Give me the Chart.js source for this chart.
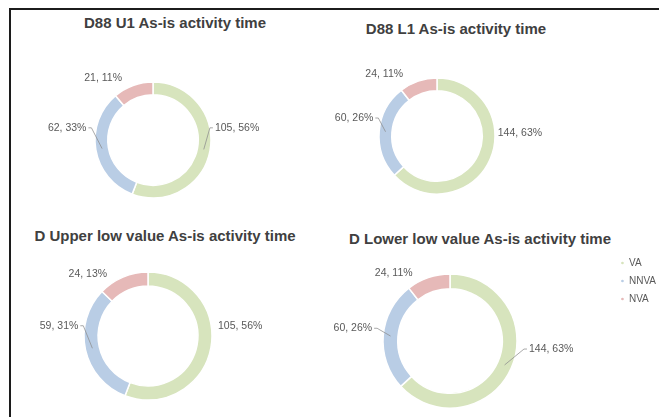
<!DOCTYPE html>
<html>
<head>
    <title>As-is activity time</title>
    <script src="https://cdn.jsdelivr.net/npm/chart.js"></script>
    <style>
        html, body {
            margin: 0;
            padding: 0;
            background: #fff;
            overflow: hidden;
        }
        #page {
            position: relative;
            width: 659px;
            height: 417px;
            overflow: hidden;
        }
        .frame {
            position: absolute;
            left: 9px;
            top: 8px;
            right: -10px;
            bottom: -10px;
            border-left: 2px solid #1c1c1c;
            border-top: 2px solid #1c1c1c;
        }
        .title {
            position: absolute;
            width: 400px;
            text-align: center;
            font-family: 'Liberation Sans', Arial, sans-serif;
            font-weight: bold;
            font-size: 15px;
            line-height: 18px;
            color: #404040;
            white-space: nowrap;
        }
        canvas {
            position: absolute;
        }
    </style>
</head>
<body>
<div id="page">
    <div class="frame"></div>
</div>

<script>
    // categories shared by all four charts
    const categories = ['VA', 'NNVA', 'NVA'];

    const chartTitles = [
        'D88 U1 As-is activity time',
        'D88 L1 As-is activity time',
        'D Upper low value As-is activity time',
        'D Lower low value As-is activity time'
    ];

    // minutes per category (VA, NNVA, NVA)
    const u1Values = [105, 62, 21];
    const l1Values = [144, 60, 24];
    const upperLowValues = [105, 59, 24];
    const lowerLowValues = [144, 60, 24];

    const seriesValues = [u1Values, l1Values, upperLowValues, lowerLowValues];

    const colors = ['#d7e4bd', '#b9cde5', '#e6b9b8'];

    // where each chart sits on the page (canvas box, ring centre, ring radius, title centre)
    const layouts = [
        { box: [12, 40, 318, 170], center: [153, 140], radius: 58, title: [175, 23],
          labelPos: [[1.45, -0.21], [-1.48, -0.21], [-0.86, -1.07]], leader: [true, true, false] },
        { box: [330, 40, 329, 170], center: [437, 136], radius: 58, title: [456, 29],
          labelPos: [[1.43, -0.05], [-1.43, -0.31], [-0.91, -1.07]], leader: [false, true, false] },
        { box: [12, 250, 318, 167], center: [148, 336], radius: 64, title: [165, 236],
          labelPos: [[1.44, -0.16], [-1.39, -0.16], [-0.94, -0.97]], leader: [false, true, false] },
        { box: [260, 250, 406, 182], center: [450, 341], radius: 67, title: [480, 239],
          labelPos: [[1.51, 0.12], [-1.45, -0.19], [-0.84, -1.01]], leader: [true, true, false],
          legend: true }
    ];

    // draws "value, pct%" next to each slice, with a thin leader line where Excel had one
    const sliceLabels = {
        id: 'sliceLabels',
        afterDatasetsDraw(chart, args, opts) {
            const ctx = chart.ctx;
            const meta = chart.getDatasetMeta(0);
            const data = chart.data.datasets[0].data;
            const total = data.reduce((a, b) => a + b, 0);
            ctx.save();
            ctx.font = '10.5px "Liberation Sans", Arial, sans-serif';
            ctx.fillStyle = '#595959';
            ctx.textBaseline = 'middle';
            ctx.textAlign = 'center';
            meta.data.forEach((arc, i) => {
                const p = arc.getProps(['x', 'y', 'startAngle', 'endAngle', 'innerRadius', 'outerRadius'], true);
                const text = data[i] + ', ' + Math.round(data[i] / total * 100) + '%';
                const lx = p.x + opts.labelPos[i][0] * p.outerRadius;
                const ly = p.y + opts.labelPos[i][1] * p.outerRadius;
                ctx.fillText(text, lx, ly);

                if (opts.leader[i]) {
                    const mid = (p.startAngle + p.endAngle) / 2;
                    const rm = (p.innerRadius + p.outerRadius) / 2;
                    const w = ctx.measureText(text).width;
                    const ex = lx > p.x ? lx - w / 2 - 2 : lx + w / 2 + 2;
                    const tx = p.x + Math.cos(mid) * rm;
                    const ty = p.y + Math.sin(mid) * rm;
                    ctx.strokeStyle = '#8c8c8c';
                    ctx.lineWidth = 0.75;
                    ctx.beginPath();
                    ctx.moveTo(ex, ly);
                    ctx.lineTo(ex + (lx > p.x ? -3 : 3), ly);
                    ctx.lineTo(tx, ty);
                    ctx.stroke();
                }
            });
            ctx.restore();
        }
    };

    const page = document.getElementById('page');

    layouts.forEach((lay, idx) => {
        const title = document.createElement('div');
        title.className = 'title';
        title.textContent = chartTitles[idx];
        title.style.left = (lay.title[0] - 200) + 'px';
        title.style.top = (lay.title[1] - 9) + 'px';
        page.appendChild(title);

        const canvas = document.createElement('canvas');
        canvas.width = lay.box[2];
        canvas.height = lay.box[3];
        canvas.style.left = lay.box[0] + 'px';
        canvas.style.top = lay.box[1] + 'px';
        page.appendChild(canvas);

        const chart = new Chart(canvas.getContext('2d'), {
            type: 'doughnut',
            data: {
                labels: categories,
                datasets: [{
                    data: seriesValues[idx],
                    backgroundColor: colors,
                    borderColor: '#ffffff',
                    borderWidth: 1.5
                }]
            },
            options: {
                responsive: false,
                animation: false,
                radius: lay.radius,
                cutout: '78%',
                layout: { padding: 0 },
                plugins: {
                    tooltip: { enabled: false },
                    legend: {
                        display: !!lay.legend,
                        position: 'right',
                        align: 'start',
                        labels: {
                            usePointStyle: true,
                            pointStyle: 'circle',
                            boxWidth: 3,
                            boxHeight: 3,
                            padding: 8,
                            color: '#595959',
                            font: { family: '"Liberation Sans", Arial, sans-serif', size: 10 }
                        }
                    },
                    sliceLabels: { labelPos: lay.labelPos, leader: lay.leader }
                }
            },
            plugins: [sliceLabels]
        });

        // shift the chart area so the ring lands where it is in the picture
        const a = chart.chartArea;
        const dx = (lay.center[0] - lay.box[0]) - (a.left + a.right) / 2;
        const dy = (lay.center[1] - lay.box[1]) - (a.top + a.bottom) / 2;
        chart.options.layout.padding = {
            left: dx > 0 ? 2 * dx : 0,
            right: dx < 0 ? -2 * dx : 0,
            top: dy > 0 ? 2 * dy : 0,
            bottom: dy < 0 ? -2 * dy : 0
        };
        chart.update('none');
    });
</script>
</body>
</html>
